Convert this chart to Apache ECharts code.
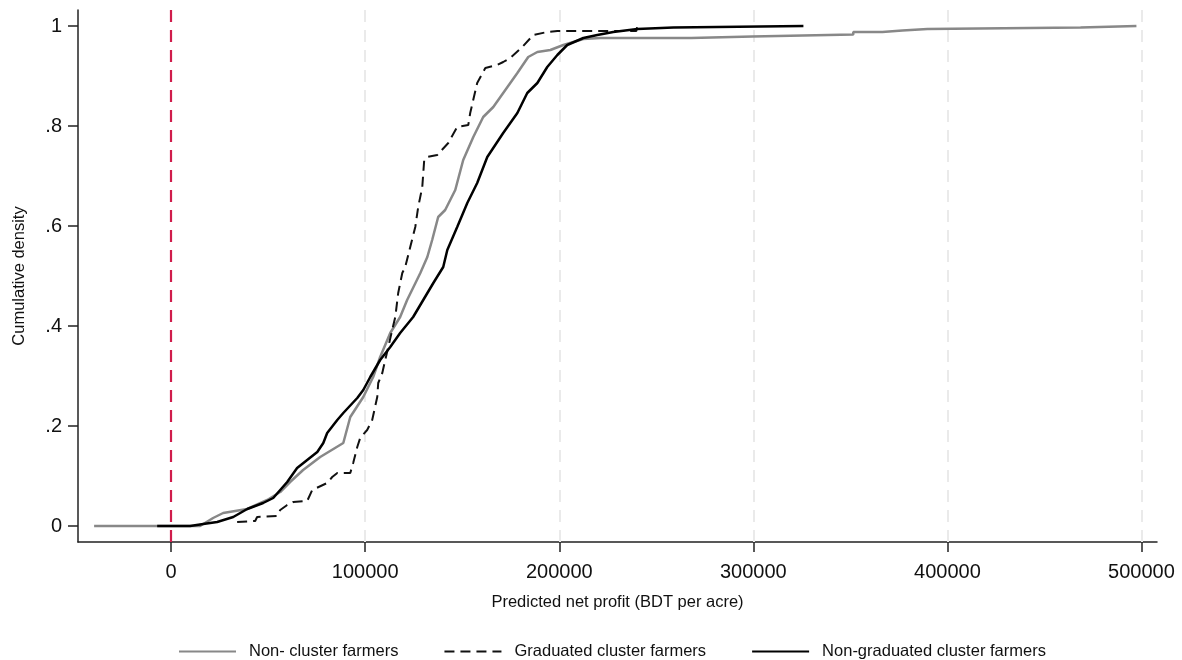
<!DOCTYPE html>
<html>
<head>
<meta charset="utf-8">
<script src="https://cdn.jsdelivr.net/npm/echarts@6/dist/echarts.min.js"></script>
<style>
  html,body{margin:0;padding:0;background:#fff;}
  #chart{width:1182px;height:660px;}
</style>
</head>
<body>
<div id="chart"></div>
<script>
// 刻度
var xTicks=[0,100000,200000,300000,400000,500000];
var yTicks=[0,0.2,0.4,0.6,0.8,1];
var gridXs=[100000,200000,300000,400000,500000];

// Non- cluster farmers
var nonClusterX=[-39700,14900,21600,26800,39200,49500,56200,61300,68000,76800,88700,92300,99000,104100,107700,112900,118000,121600,128400,132000,134500,137600,141200,146400,150500,155700,160800,166000,171100,178400,184000,188700,195400,202100,212400,221100,268000,268000,299500,299500,351500,351500,366500,366500,376800,376800,389700,389700,468600,468600,497400];
var nonClusterY=[0,0,0.016,0.026,0.034,0.052,0.068,0.088,0.112,0.138,0.166,0.218,0.258,0.298,0.338,0.386,0.418,0.452,0.506,0.538,0.572,0.618,0.632,0.672,0.732,0.778,0.818,0.838,0.866,0.906,0.938,0.948,0.952,0.962,0.974,0.976,0.976,0.979,0.979,0.983,0.983,0.988,0.988,0.991,0.991,0.994,0.994,0.997,0.997,1,1];

// Graduated cluster farmers
var gradX=[34000,43300,44300,54600,56200,59800,62900,70100,72700,80400,83000,85600,92300,93800,95900,97400,101000,103600,106200,106700,108800,110300,111900,113900,115500,117000,119100,120600,123200,125800,127300,129400,130400,132000,137100,142800,147400,153100,154100,157700,161900,168000,171100,174700,180900,186600,193800,199000,239700,240200];
var gradY=[0.008,0.010,0.018,0.020,0.032,0.042,0.048,0.050,0.072,0.086,0.098,0.106,0.106,0.126,0.158,0.176,0.192,0.212,0.258,0.286,0.306,0.332,0.358,0.392,0.418,0.466,0.506,0.518,0.558,0.598,0.638,0.678,0.732,0.738,0.742,0.766,0.798,0.802,0.826,0.886,0.916,0.922,0.928,0.936,0.958,0.982,0.988,0.990,0.990,1];

// Non-graduated cluster farmers
var nonGradX=[-7200,9800,16500,23700,32000,39200,47400,52600,56200,59800,64900,70100,75300,78400,80400,85600,88700,95900,99000,102600,107700,112900,118000,124700,129900,135100,140200,142300,147400,152600,157700,162900,171100,178400,183500,188700,193800,199000,204100,212400,219600,227800,240200,258800,325800];
var nonGradY=[0,0,0.004,0.008,0.018,0.034,0.046,0.056,0.072,0.088,0.116,0.132,0.148,0.166,0.186,0.212,0.226,0.256,0.272,0.298,0.332,0.358,0.386,0.418,0.452,0.486,0.518,0.552,0.598,0.646,0.686,0.738,0.786,0.826,0.866,0.886,0.918,0.942,0.962,0.976,0.982,0.988,0.994,0.997,1];

var seriesNames=['Non- cluster farmers','Graduated cluster farmers','Non-graduated cluster farmers'];

// 拼成坐标对
var toPairs=function(xs,ys){
  return xs.map(function(x,i){return [x,ys[i]];});
};

var font="'Liberation Sans',Arial,sans-serif";

var chart=echarts.init(document.getElementById('chart'));
chart.setOption({
  animation:false,
  backgroundColor:'#fff',
  grid:{left:78,right:25,top:10,bottom:118},
  legend:{
    data:seriesNames,
    left:173,
    top:638,
    itemWidth:57,
    itemHeight:10,
    itemGap:45,
    itemStyle:{opacity:0},
    textStyle:{fontFamily:font,fontSize:16.5,color:'#111',padding:[0,0,0,8]}
  },
  xAxis:{
    type:'value',
    min:-48000,
    max:508000,
    name:'Predicted net profit (BDT per acre)',
    nameLocation:'middle',
    nameGap:52,
    nameTextStyle:{fontFamily:font,fontSize:16.5,color:'#111'},
    axisLine:{onZero:false,lineStyle:{color:'#222',width:1.5}},
    axisTick:{show:true,length:10,lineStyle:{color:'#222',width:1.5},customValues:xTicks},
    axisLabel:{fontFamily:font,fontSize:20,color:'#111',margin:20,customValues:xTicks,
      formatter:function(v){return String(v);}},
    splitLine:{show:false}
  },
  yAxis:{
    type:'value',
    min:-0.032,
    max:1.032,
    name:'Cumulative density',
    nameLocation:'middle',
    nameGap:50,
    nameRotate:90,
    nameTextStyle:{fontFamily:font,fontSize:16.5,color:'#111'},
    axisLine:{show:true,onZero:false,lineStyle:{color:'#222',width:1.5}},
    axisTick:{show:true,length:10,lineStyle:{color:'#222',width:1.5},customValues:yTicks},
    axisLabel:{fontFamily:font,fontSize:20,color:'#111',margin:16,customValues:yTicks,
      formatter:function(v){
        if(v===0||v===1){return String(v);}
        return String(v).replace(/^0/,'');
      }},
    splitLine:{show:false}
  },
  series:[
    {
      name:seriesNames[0],
      type:'line',
      data:toPairs(nonClusterX,nonClusterY),
      symbol:'none',
      z:3,
      lineStyle:{color:'#888888',width:2.5},
      itemStyle:{color:'#888888'},
      markLine:{
        silent:true,
        symbol:'none',
        z:1,
        label:{show:false},
        lineStyle:{color:'#eaeaea',width:2,type:[12,8]},
        data:gridXs.map(function(v){return {xAxis:v};})
      }
    },
    {
      name:seriesNames[1],
      type:'line',
      data:toPairs(gradX,gradY),
      symbol:'none',
      z:4,
      lineStyle:{color:'#111111',width:2,type:[10,6]},
      itemStyle:{color:'#111111'}
    },
    {
      name:seriesNames[2],
      type:'line',
      data:toPairs(nonGradX,nonGradY),
      symbol:'none',
      z:5,
      lineStyle:{color:'#000000',width:2.5},
      itemStyle:{color:'#000000'},
      markLine:{
        silent:true,
        symbol:'none',
        z:6,
        label:{show:false},
        lineStyle:{color:'#d01c4c',width:2.2,type:[12,8]},
        data:[{xAxis:0}]
      }
    }
  ]
});
</script>
</body>
</html>
